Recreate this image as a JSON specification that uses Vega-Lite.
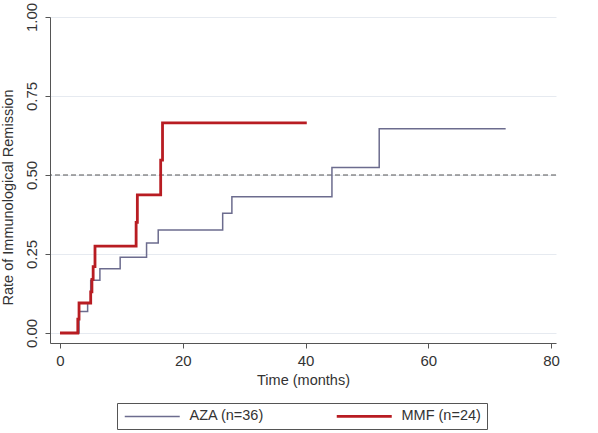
{
  "$schema": "https://vega.github.io/schema/vega-lite/v6.json",
  "width": 506,
  "height": 326,
  "autosize": "none",
  "padding": {"left": 50, "top": 17, "right": 42, "bottom": 90},
  "background": "white",
  "config": {
    "view": {"stroke": null},
    "font": "Liberation Sans",
    "axis": {"labelFont": "Liberation Sans", "titleFont": "Liberation Sans", "labelColor": "#333", "titleColor": "#333", "titleFontWeight": "normal", "labelFontSize": 15, "titleFontSize": 14.5, "domainColor": "#555", "tickColor": "#555", "tickSize": 5}
  },
  "datasets": {
    "km": [
      {"group": "AZA (n=36)", "t": 0, "rate": 0},
      {"group": "AZA (n=36)", "t": 3.1, "rate": 0.068},
      {"group": "AZA (n=36)", "t": 4.5, "rate": 0.095},
      {"group": "AZA (n=36)", "t": 5.0, "rate": 0.167},
      {"group": "AZA (n=36)", "t": 6.5, "rate": 0.203},
      {"group": "AZA (n=36)", "t": 9.8, "rate": 0.24},
      {"group": "AZA (n=36)", "t": 14.1, "rate": 0.285},
      {"group": "AZA (n=36)", "t": 16.0, "rate": 0.326},
      {"group": "AZA (n=36)", "t": 26.5, "rate": 0.379},
      {"group": "AZA (n=36)", "t": 28.0, "rate": 0.431},
      {"group": "AZA (n=36)", "t": 44.3, "rate": 0.524},
      {"group": "AZA (n=36)", "t": 52.0, "rate": 0.646},
      {"group": "AZA (n=36)", "t": 72.6, "rate": 0.646},
      {"group": "MMF (n=24)", "t": 0, "rate": 0},
      {"group": "MMF (n=24)", "t": 2.9, "rate": 0.044},
      {"group": "MMF (n=24)", "t": 3.1, "rate": 0.095},
      {"group": "MMF (n=24)", "t": 5.0, "rate": 0.13},
      {"group": "MMF (n=24)", "t": 5.2, "rate": 0.17},
      {"group": "MMF (n=24)", "t": 5.4, "rate": 0.21},
      {"group": "MMF (n=24)", "t": 5.7, "rate": 0.275},
      {"group": "MMF (n=24)", "t": 12.4, "rate": 0.35},
      {"group": "MMF (n=24)", "t": 12.6, "rate": 0.437},
      {"group": "MMF (n=24)", "t": 16.4, "rate": 0.547},
      {"group": "MMF (n=24)", "t": 16.7, "rate": 0.665},
      {"group": "MMF (n=24)", "t": 40.2, "rate": 0.665}
    ],
    "ref": [{"y": 0.5}]
  },
  "layer": [
    {
      "data": {"name": "ref"},
      "mark": {"type": "rule", "color": "#555", "strokeDash": [5, 3], "strokeWidth": 1},
      "encoding": {
        "y": {"field": "y", "type": "quantitative", "scale": {"domain": [-0.0316, 1], "nice": false, "zero": false}}
      }
    },
    {
      "data": {"name": "km"},
      "mark": {"type": "line", "interpolate": "step-after"},
      "encoding": {
        "x": {
          "field": "t", "type": "quantitative",
          "scale": {"domain": [-1.63, 80.8], "nice": false, "zero": false},
          "axis": {"title": "Time (months)", "values": [0, 20, 40, 60, 80], "grid": false, "labelPadding": 5, "titlePadding": 5}
        },
        "y": {
          "field": "rate", "type": "quantitative",
          "scale": {"domain": [-0.0316, 1], "nice": false, "zero": false},
          "axis": {"title": "Rate of Immunological Remission", "titleY": 180, "values": [0, 0.25, 0.5, 0.75, 1], "format": ".2f", "labelAngle": -90, "labelAlign": "center", "labelBaseline": "bottom", "labelPadding": 6, "titlePadding": 9, "grid": true, "gridColor": "#e6eaf0", "gridWidth": 1}
        },
        "color": {
          "field": "group", "type": "nominal",
          "scale": {"domain": ["AZA (n=36)", "MMF (n=24)"], "range": ["#6c6c8e", "#b81c22"]},
          "legend": {"title": null, "orient": "none", "legendX": 67, "legendY": 386, "direction": "horizontal", "columns": 2, "columnPadding": 66, "strokeColor": "#555", "padding": 6, "labelFontSize": 14.5, "labelColor": "#333", "labelFont": "Liberation Sans", "labelOffset": 52, "symbolType": "M-1,0L9,0", "symbolSize": 121}
        },
        "strokeWidth": {
          "field": "group", "type": "nominal",
          "scale": {"domain": ["AZA (n=36)", "MMF (n=24)"], "range": [1.5, 2.8]},
          "legend": {"title": null, "orient": "none", "legendX": 67, "legendY": 386, "direction": "horizontal", "columns": 2, "columnPadding": 66, "strokeColor": "#555", "padding": 6, "labelFontSize": 14.5, "labelColor": "#333", "labelFont": "Liberation Sans", "labelOffset": 52, "symbolType": "M-1,0L9,0", "symbolSize": 121}
        }
      }
    }
  ]
}
